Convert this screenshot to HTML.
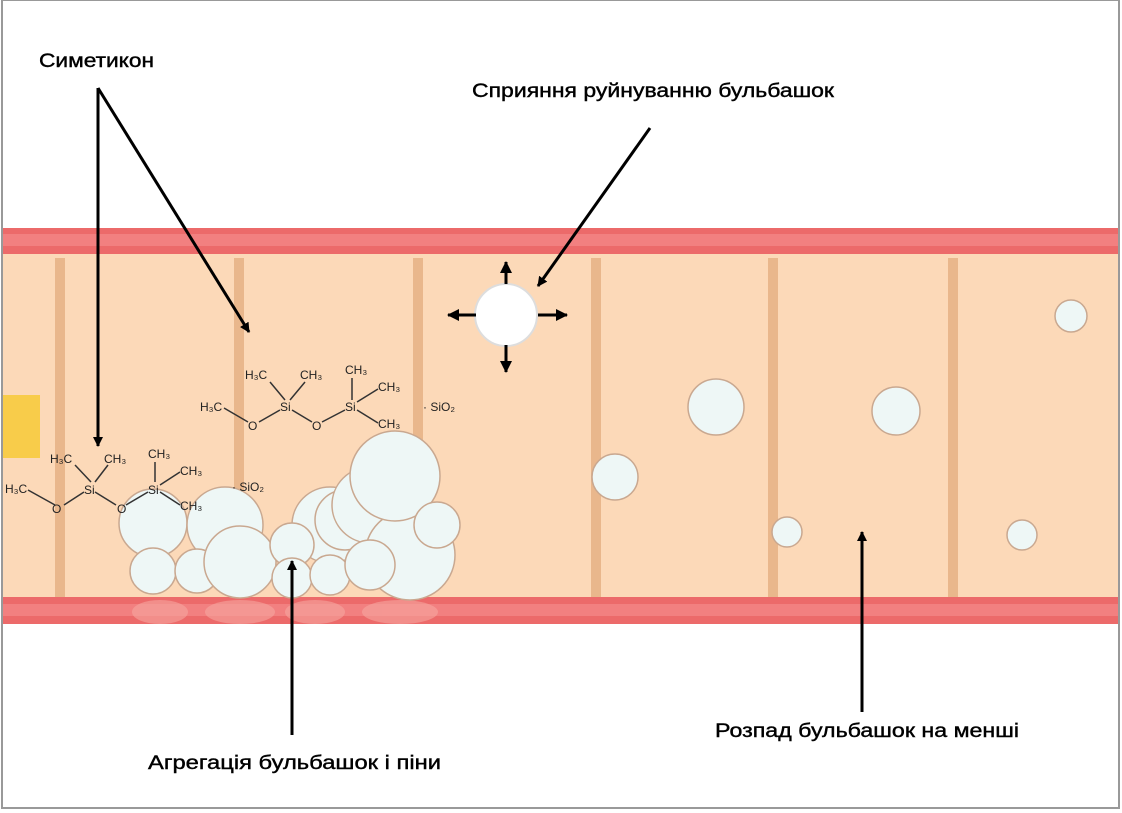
<!DOCTYPE html>
<html><head><meta charset="utf-8"><style>body{margin:0;background:#fff}svg{display:block}</style></head><body>
<svg width="1122" height="813" viewBox="0 0 1122 813" xmlns="http://www.w3.org/2000/svg" font-family="Liberation Sans, DejaVu Sans, sans-serif">
<defs>
<marker id="ah" markerWidth="10" markerHeight="10" refX="9" refY="5" orient="auto" markerUnits="userSpaceOnUse"><path d="M0,0 L10,5 L0,10 Z" fill="#000"/></marker>
<marker id="ah2" markerWidth="12" markerHeight="12" refX="11" refY="6" orient="auto" markerUnits="userSpaceOnUse"><path d="M0,0 L12,6 L0,12 Z" fill="#000"/></marker>
</defs>
<rect x="0" y="0" width="1122" height="813" fill="#fff"/>
<rect x="2" y="0" width="1117" height="808" fill="none" stroke="#999" stroke-width="2"/>
<rect x="3" y="253" width="1115" height="345" fill="#fcd9b8"/>
<rect x="3" y="228" width="1115" height="26" fill="#ec6a6a"/>
<rect x="3" y="234" width="1115" height="12" fill="#f28080"/>
<rect x="3" y="597" width="1115" height="27" fill="#ec6a6a"/>
<rect x="3" y="604" width="1115" height="12" fill="#f28080"/>
<g fill="#e9b78c">
<rect x="55" y="258" width="10" height="339"/><rect x="234" y="258" width="10" height="339"/><rect x="413" y="258" width="10" height="339"/><rect x="591" y="258" width="10" height="339"/><rect x="768" y="258" width="10" height="339"/><rect x="948" y="258" width="10" height="339"/>
</g>
<rect x="3" y="395" width="37" height="63" fill="#f8cc4a"/>
<g fill="#f6a7a0" opacity="0.6">
<ellipse cx="160" cy="612" rx="28" ry="12"/><ellipse cx="240" cy="612" rx="35" ry="12"/><ellipse cx="315" cy="612" rx="30" ry="12"/><ellipse cx="400" cy="612" rx="38" ry="12"/>
</g>
<g fill="#eef7f6" stroke="#c9a890" stroke-width="1.5">
<circle cx="153" cy="523" r="34"/><circle cx="225" cy="525" r="38"/>
<circle cx="153" cy="571" r="23"/><circle cx="197" cy="571" r="22"/><circle cx="240" cy="562" r="36"/>
<circle cx="330" cy="525" r="38"/><circle cx="345" cy="520" r="30"/>
<circle cx="292" cy="545" r="22"/><circle cx="292" cy="578" r="20"/><circle cx="330" cy="575" r="20"/>
<circle cx="370" cy="505" r="38"/><circle cx="410" cy="555" r="45"/><circle cx="370" cy="565" r="25"/>
<circle cx="395" cy="476" r="45"/><circle cx="437" cy="525" r="23"/>
</g>
<g fill="#eef7f6" stroke="#c9a890" stroke-width="1.5">
<circle cx="615" cy="477" r="23"/><circle cx="716" cy="407" r="28"/><circle cx="896" cy="411" r="24"/><circle cx="1071" cy="316" r="16"/><circle cx="787" cy="532" r="15"/><circle cx="1022" cy="535" r="15"/>
</g>
<circle cx="506" cy="315" r="31" fill="#fff" stroke="#ddd" stroke-width="2"/>
<g stroke="#000" stroke-width="3">
<line x1="506" y1="284" x2="506" y2="262" marker-end="url(#ah2)"/>
<line x1="506" y1="345" x2="506" y2="372" marker-end="url(#ah2)"/>
<line x1="476" y1="315" x2="448" y2="315" marker-end="url(#ah2)"/>
<line x1="538" y1="315" x2="567" y2="315" marker-end="url(#ah2)"/>
</g>
<g font-size="12" fill="#222">
<text x="50" y="463">H₃C</text><text x="104" y="463">CH₃</text><text x="148" y="458">CH₃</text><text x="180" y="475">CH₃</text>
<text x="5" y="493">H₃C</text><text x="84" y="494">Si</text><text x="148" y="494">Si</text><text x="180" y="510">CH₃</text>
<text x="52" y="513">O</text><text x="117" y="513">O</text><text x="232" y="491">· SiO₂</text>
<text x="245" y="379">H₃C</text><text x="300" y="379">CH₃</text><text x="345" y="374">CH₃</text><text x="378" y="391">CH₃</text>
<text x="200" y="411">H₃C</text><text x="280" y="411">Si</text><text x="345" y="411">Si</text><text x="378" y="428">CH₃</text>
<text x="248" y="430">O</text><text x="312" y="430">O</text><text x="423" y="411">· SiO₂</text>
</g>
<g stroke="#333" stroke-width="1.5">
<line x1="28" y1="490" x2="55" y2="505"/><line x1="64" y1="505" x2="84" y2="492"/><line x1="91" y1="482" x2="75" y2="465"/><line x1="95" y1="482" x2="108" y2="465"/>
<line x1="95" y1="492" x2="116" y2="505"/><line x1="126" y1="505" x2="148" y2="492"/><line x1="155" y1="482" x2="155" y2="462"/><line x1="160" y1="485" x2="180" y2="472"/><line x1="160" y1="492" x2="180" y2="505"/>
<line x1="224" y1="408" x2="248" y2="422"/><line x1="259" y1="422" x2="280" y2="410"/><line x1="285" y1="400" x2="270" y2="382"/><line x1="290" y1="400" x2="305" y2="382"/>
<line x1="292" y1="410" x2="312" y2="422"/><line x1="322" y1="422" x2="345" y2="410"/><line x1="352" y1="400" x2="352" y2="378"/><line x1="357" y1="402" x2="378" y2="389"/><line x1="357" y1="410" x2="378" y2="423"/>
</g>
<g stroke="#000" stroke-width="3" fill="none">
<line x1="98" y1="88" x2="98" y2="446" marker-end="url(#ah)"/>
<line x1="98" y1="88" x2="249" y2="332" marker-end="url(#ah)"/>
<line x1="650" y1="128" x2="538" y2="286" marker-end="url(#ah)"/>
<line x1="292" y1="735" x2="292" y2="561" marker-end="url(#ah)"/>
<line x1="862" y1="712" x2="862" y2="532" marker-end="url(#ah)"/>
</g>
<g font-size="19" fill="#000" stroke="#000" stroke-width="0.4">
<text x="39" y="67" textLength="115" lengthAdjust="spacingAndGlyphs">Симетикон</text>
<text x="472" y="97" textLength="362" lengthAdjust="spacingAndGlyphs">Сприяння руйнуванню бульбашок</text>
<text x="148" y="769" textLength="293" lengthAdjust="spacingAndGlyphs">Агрегація бульбашок і піни</text>
<text x="715" y="737" textLength="304" lengthAdjust="spacingAndGlyphs">Розпад бульбашок на менші</text>
</g>
</svg>
</body></html>
